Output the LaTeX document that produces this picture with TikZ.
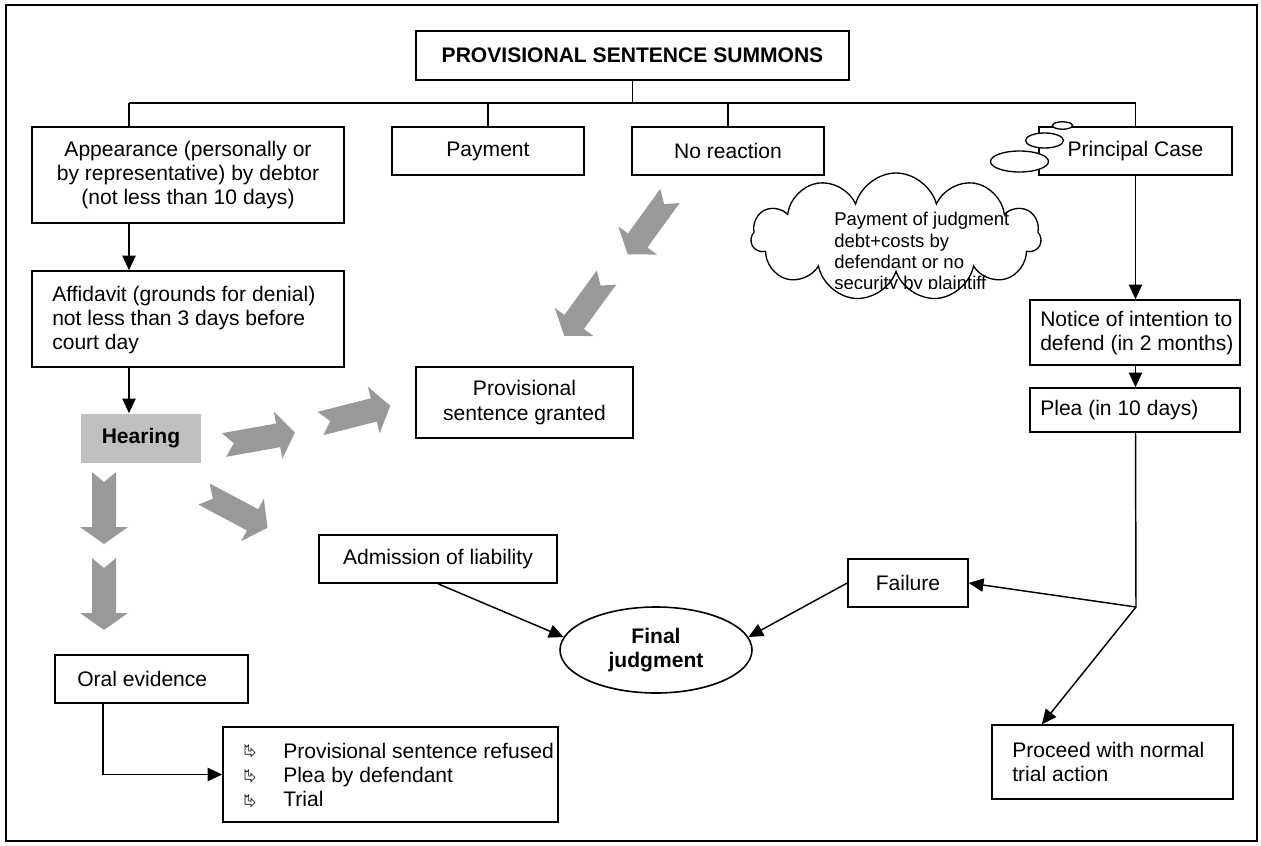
\documentclass[tikz,border=0pt]{standalone}
\usepackage{fontspec}
\setmainfont{Liberation Sans}
\usetikzlibrary{arrows.meta,shapes.geometric,shapes.symbols}
\definecolor{garrow}{gray}{0.6}
\definecolor{hearfill}{gray}{0.75}
\newcommand\fsz{\fontsize{15.8}{18.3}\selectfont}
\begin{document}
\begin{tikzpicture}[x=0.75pt,y=-0.75pt,
  every node/.style={font=\fsz},
  bb/.style n args={4}{minimum width={(#3-#1)*0.75pt}, minimum height={(#4-#2)*0.75pt}, at={({(#1+#3)/2},{(#2+#4)/2})}},
  box/.style={draw, line width=1.2pt, fill=white, inner sep=0pt, align=center},
  txt/.style={inner sep=0pt, align=left, anchor=west},
  conn/.style={line width=1.1pt},
  arr/.style={conn, -{Triangle[length=11pt,width=10pt]}},
  bub/.style={ellipse, draw, fill=white, line width=1pt, inner sep=0pt},
  garr/.pic={\fill[garrow] (0,-12) -- (55,-12) -- (55,-24) -- (72,0) -- (55,24) -- (55,12) -- (0,12) -- (10,0) -- cycle;},
  rib/.pic={\draw[line width=0.5pt, line join=miter] (0,0) -- (1.8,2) -- (3.6,0) -- (3.6,6) -- (6,6) -- (6,3.5) -- (10,7.5) -- (6,11.5) -- (6,9.2) -- (0,9.2) -- cycle;}
]
\useasboundingbox (0,0) rectangle (1261,846);
\draw[line width=1.2pt] (6,5) rectangle (1257,841);

% top row
\node[box, bb={416}{31}{849}{80}, font=\fsz\bfseries] (title) {PROVISIONAL SENTENCE SUMMONS};
\node[box, bb={32}{127}{344}{223}] (app) {Appearance (personally or\\by representative) by debtor\\(not less than 10 days)};
\node[box, bb={392}{127}{584}{175}] (pay) {Payment};
\node[box, bb={632}{127}{824}{175}] (nr) {No reaction};
\node[box, bb={1039}{127}{1232}{175}] (pc) {Principal Case};

% left column
\node[box, bb={32}{271}{344}{367}] (aff) {};
\node[txt] (afftxt) at (52,320) {Affidavit (grounds for denial)\\not less than 3 days before\\court day};
\node[box, bb={81}{414}{201}{463}, draw=none, fill=hearfill, font=\fsz\bfseries] (hear) {Hearing};
\node[box, bb={416}{367}{633}{438}] (grant) {Provisional\\sentence granted};
\node[box, bb={319}{535}{557}{583}] (adm) {Admission of liability};
\node[box, bb={55}{655}{248}{703}] (oral) {};
\node[txt] (oraltxt) at (77,679) {Oral evidence};
\node[box, bb={223}{727}{558}{822}] (lst) {};
\node[txt] (lsttxt) at (283,775) {Provisional sentence refused\\Plea by defendant\\Trial};
\pic at (245,745) {rib};
\pic at (245,770) {rib};
\pic at (245,795) {rib};

% final judgment
\node[ellipse, draw, line width=1.2pt, fill=white, minimum width=192*0.75pt, minimum height=86*0.75pt, inner sep=0pt, align=center, font=\fsz\bfseries] (fj) at (656,650) {Final\\judgment};

% right column
\node[box, bb={1030}{300}{1240}{365}] (notice) {};
\node[txt] (noticetxt) at (1040,333) {Notice of intention to\\defend (in 2 months)};
\node[box, bb={1030}{388}{1240}{432}] (plea) {};
\node[txt] (pleatxt) at (1040,410) {Plea (in 10 days)};
\node[box, bb={848}{559}{968}{607}] (fail) {Failure};
\node[box, bb={992}{725}{1233}{799}] (proc) {};
\node[txt] (proctxt) at (1012,762) {Proceed with normal\\trial action};

% cloud callout
\node[cloud, draw, fill=white, line width=1pt, cloud puffs=11, cloud ignores aspect, minimum width=290*0.75pt, minimum height=128*0.75pt] (cloud) at (896,237) {};
\begin{scope}
  \clip (800,190) rectangle (1010,288);
  \node[inner sep=0pt, anchor=north west, align=left, font=\fontsize{13.9}{16}\selectfont] (cloudtxt) at (834,212) {Payment of judgment\\debt+costs by\\defendant or no\\security by plaintiff};
\end{scope}
\node[bub, minimum width=58*0.75pt, minimum height=21*0.75pt] (b1) at (1019.5,161.5) {};
\node[bub, minimum width=38*0.75pt, minimum height=15*0.75pt] (b2) at (1044.5,140.5) {};
\node[bub, minimum width=20*0.75pt, minimum height=7.5*0.75pt] (b3) at (1062.5,125.5) {};

% bus
\coordinate (busL) at (129,103);
\coordinate (busR) at (1136,103);
\draw[conn] (busL) -- (busR);
\draw[conn] (title.south) -- (title.south |- busL);
\draw[conn] (busL) -- (busL |- app.north);
\draw[conn] (pay.north) -- (pay.north |- busL);
\draw[conn] (nr.north) -- (nr.north |- busL);
\draw[conn] (pc.north) -- (pc.north |- busL);

% arrows
\draw[arr] (busL |- app.south) -- (busL |- aff.north);
\draw[arr] (busL |- aff.south) -- (busL |- hear.north);
\draw[arr] (pc.south) -- (pc.south |- notice.north);
\draw[arr] (pc.south |- notice.south) -- (pc.south |- plea.north);
\coordinate (jn) at (1136,607);
\draw[conn] (pc.south |- plea.south) -- (jn);
\draw[arr] (jn) -- (fail.east);
\draw[arr] (jn) -- ([xshift=38pt]proc.north west);
\draw[arr] (fail.west) -- (fj.8);
\draw[arr] (adm.south) -- (fj.172);
\draw[arr] ([xshift=36.75pt]oral.south west) |- (lst.west);

% gray block arrows
\pic[rotate=10.1] at (224,445) {garr};
\pic[rotate=14.3] at (320.5,423.5) {garr};
\pic[rotate=-28] at (204,494) {garr};
\pic[rotate=-90] at (104,472) {garr};
\pic[rotate=-90] at (104,558) {garr};
\pic[rotate=-126] at (670,196) {garr};
\pic[rotate=-126] at (606.5,277.5) {garr};
\end{tikzpicture}
\end{document}
